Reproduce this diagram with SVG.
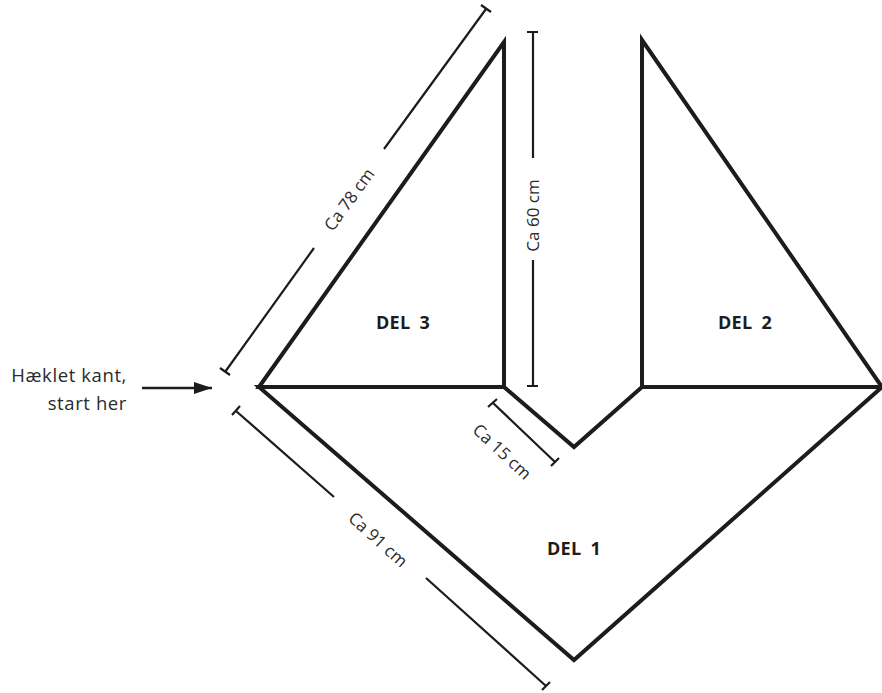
<svg xmlns="http://www.w3.org/2000/svg" width="882" height="693" viewBox="0 0 882 693">
<defs><marker id="ah" markerUnits="userSpaceOnUse" markerWidth="20" markerHeight="14" refX="18" refY="7" orient="auto"><path d="M0,1 L18,7 L0,13 Z" fill="#1c1c1c"/></marker></defs>
<style>
.s{fill:none;stroke:#1c1c1c;stroke-width:4;stroke-linejoin:miter;stroke-miterlimit:10}
.d{fill:none;stroke:#1c1c1c;stroke-width:2.2}
text{font-family:"Open Sans","Liberation Sans",sans-serif;fill:#2a2a2a;font-size:17px}
.l{font-size:18.5px;letter-spacing:.6px}
.b{font-weight:700;font-size:18px;word-spacing:4px;letter-spacing:.3px;fill:#1c1c1c}
</style>
<rect width="882" height="693" fill="#fff"/>
<g id="del1"><path class="s" d="M259,387 L504,387 L574,447 L642,387 L882,387 L574,660 Z"/><text class="b" x="574" y="555" text-anchor="middle">DEL 1</text></g>
<g id="del3"><path class="s" d="M259,387 L504,42 L504,387 Z"/><text class="b" x="403" y="329" text-anchor="middle">DEL 3</text></g>
<g id="del2"><path class="s" d="M642,40 L642,387 L882,387 Z"/><text class="b" x="745" y="329" text-anchor="middle">DEL 2</text></g>
<g id="connectors">
<path class="d" d="M225,372 L314,248 M384,149 L486,9 M220,368 L230,375 M481,5 L491,12"/>
<path class="d" d="M533,32 L533,158 M533,260 L533,386 M527,32 L538,32 M527,386 L538,386"/>
<path class="d" d="M492,402 L555,462 M488,407 L497,399 M551,466 L559,458"/>
<path class="d" d="M236,411 L334,497 M426,578 L546,686 M232,415 L240,406 M542,690 L550,682"/>
<path d="M142,388 L212,388" fill="none" stroke="#1c1c1c" stroke-width="2.4" marker-end="url(#ah)"/>
</g>
<g id="labels">
<text class="l" x="127" y="382" text-anchor="end">Hæklet kant,</text>
<text class="l" x="127" y="410" text-anchor="end">start her</text>
<text transform="translate(354,203) rotate(-54)" text-anchor="middle">Ca 78 cm</text>
<text transform="translate(539,215.500) rotate(-90)" text-anchor="middle">Ca 60 cm</text>
<text transform="translate(498,456) rotate(43)" text-anchor="middle">Ca 15 cm</text>
<text transform="translate(374,544) rotate(42)" text-anchor="middle">Ca 91 cm</text>
</g>
</svg>
